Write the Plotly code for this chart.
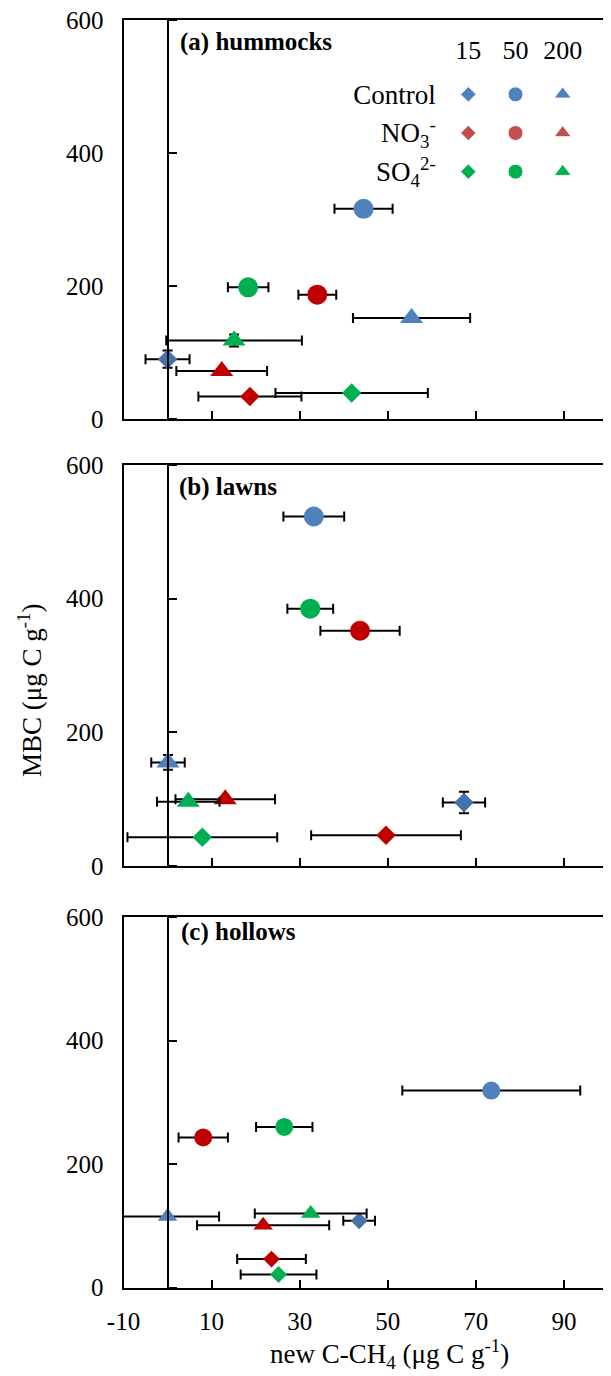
import plotly.graph_objects as go

# ---------------- data ----------------
doses = ["15", "50", "200"]
treatments = ["Control", "NO<sub>3</sub><sup>-</sup>", "SO<sub>4</sub><sup>2-</sup>"]
panel_labels = ["(a) hummocks", "(b) lawns", "(c) hollows"]

x_ticks = [-10, 10, 30, 50, 70, 90]
y_ticks = [0, 200, 400, 600]

# order: Control(15,50,200), NO3(15,50,200), SO4(15,50,200)
hum_x = [0.0, 44.5, 55.4, 18.7, 34.0, 12.3, 41.8, 18.3, 15.1]
hum_y = [90, 316, 152, 34, 187, 72, 39, 198, 118]
hum_xerr = [5.0, 6.6, 13.3, 11.7, 4.3, 10.3, 17.3, 4.6, 15.4]
hum_yerr = [13, 0, 0, 0, 0, 0, 0, 0, 9]

lawn_x = [67.3, 33.2, 0.1, 49.6, 43.7, 13.1, 7.9, 32.4, 4.7]
lawn_y = [95, 523, 155, 46, 352, 100, 43, 385, 96]
lawn_xerr = [4.8, 6.9, 3.8, 17.0, 9.0, 11.3, 17.0, 5.2, 7.1]
lawn_yerr = [16, 0, 11, 0, 0, 0, 0, 0, 0]

hol_x = [43.5, 73.5, 0.0, 23.6, 8.1, 21.7, 25.2, 26.5, 32.5]
hol_y = [108, 319, 115, 46, 243, 101, 21, 260, 120]
hol_xerr = [3.6, 20.2, 11.7, 7.8, 5.6, 15.0, 8.6, 6.4, 12.7]
hol_yerr = [0, 0, 0, 0, 0, 0, 0, 0, 0]

# ---------------- style ----------------
OFF = 8                      # page body margin
W, H = 611 - OFF, 1376 - OFF
FONT = "Liberation Serif"
data_colors = ["#4F81BD", "#C00000", "#00B050"]
diamond_ctrl = "#4672AA"
legend_colors = ["#4F81BD", "#C0504D", "#00B050"]
symbols = ["diamond", "circle", "triangle-up"]
sizes_big = [15, 20, 20]
sizes_small = [13, 18, 17]


def pxx(p):
    return (p - OFF) / W


def pxy(p):
    return 1 - (p - OFF) / H


x_dom = [pxx(123.5), pxx(608)]
tops = [20, 465, 917]
bottoms = [419, 866, 1287.5]
xr = [-10, 100]
zero_pos = x_dom[0] + (0 - xr[0]) / (xr[1] - xr[0]) * (x_dom[1] - x_dom[0])

panels = [
    (hum_x, hum_y, hum_xerr, hum_yerr, sizes_big),
    (lawn_x, lawn_y, lawn_xerr, lawn_yerr, sizes_big),
    (hol_x, hol_y, hol_xerr, hol_yerr, sizes_small),
]

fig = go.Figure()

for p, (xs, ys, xe, ye, sz) in enumerate(panels):
    xa = "x" if p == 0 else f"x{p+1}"
    ya = "y" if p == 0 else f"y{p+1}"
    for t in range(3):
        sl = slice(3 * t, 3 * t + 3)
        cols = [data_colors[t]] * 3
        if t == 0:
            cols[0] = diamond_ctrl
        fig.add_trace(go.Scatter(
            x=xs[sl], y=ys[sl], mode="markers", xaxis=xa, yaxis=ya,
            marker=dict(symbol=symbols, size=sz, color=cols, opacity=1, line=dict(width=0)),
            error_x=dict(type="data", array=xe[sl], color="black", thickness=2, width=5),
            error_y=dict(type="data", array=ye[sl], color="black", thickness=2, width=5,
                         visible=any(v > 0 for v in ye[sl])),
            showlegend=False, hoverinfo="skip", cliponaxis=True,
        ))
    # dummy trace for the x=0 axis overlay
    fig.add_trace(go.Scatter(x=[None], y=[None], xaxis=xa, yaxis=f"y{p+4}",
                             showlegend=False, hoverinfo="skip"))

# legend grid (own small axes)
for t in range(3):
    fig.add_trace(go.Scatter(
        x=doses, y=[treatments[t]] * 3, mode="markers", xaxis="x4", yaxis="y7",
        marker=dict(symbol=symbols, size=[12, 15, 15], color=legend_colors[t], opacity=1),
        showlegend=False, hoverinfo="skip",
    ))

layout = dict(
    width=W, height=H, margin=dict(l=0, r=0, t=0, b=0, pad=0, autoexpand=False),
    paper_bgcolor="white", plot_bgcolor="white",
    font=dict(family=FONT, size=24, color="black"),
    showlegend=False,
)

for p in range(3):
    xk = "xaxis" if p == 0 else f"xaxis{p+1}"
    yk = "yaxis" if p == 0 else f"yaxis{p+1}"
    ya = "y" if p == 0 else f"y{p+1}"
    xa = "x" if p == 0 else f"x{p+1}"
    layout[xk] = dict(
        domain=x_dom, anchor=ya, range=xr, automargin=False,
        tickvals=x_ticks, ticktext=[f"{v:g}" for v in x_ticks],
        showticklabels=(p == 2), ticks="inside", ticklen=8, tickwidth=2, tickcolor="black",
        showline=True, linecolor="black", linewidth=2, mirror=True,
        showgrid=False, zeroline=False, ticklabelstandoff=10,
        ticklabeloverflow="allow",
        tickfont=dict(size=25, family=FONT),
    )
    layout[yk] = dict(
        domain=[pxy(bottoms[p]), pxy(tops[p])], anchor=xa, range=[0, 600], automargin=False,
        tickvals=y_ticks, ticks="", showline=True, linecolor="black", linewidth=2,
        mirror=True, showgrid=False, zeroline=False, ticklabelstandoff=13,
        ticklabeloverflow="allow",
        tickfont=dict(size=25, family=FONT),
    )
    layout[f"yaxis{p+4}"] = dict(
        overlaying=ya, anchor="free", position=zero_pos, side="right", range=[0, 600],
        tickvals=y_ticks, ticks="outside", ticklen=8, tickwidth=2, tickcolor="black",
        showticklabels=False, showline=True, linecolor="black", linewidth=2,
        showgrid=False, zeroline=False, automargin=False,
    )

# legend axes
layout["xaxis4"] = dict(
    domain=[pxx(444.7), pxx(586.3)], anchor="y7", type="category",
    categoryorder="array", categoryarray=doses, range=[-0.5, 2.5], automargin=False,
    side="top", showgrid=False, zeroline=False, showline=False, ticks="",
    tickfont=dict(size=26, family=FONT), ticklabelstandoff=10, fixedrange=True,
)
layout["yaxis7"] = dict(
    domain=[pxy(191), pxy(75)], anchor="x4", type="category",
    categoryorder="array", categoryarray=treatments, range=[2.5, -0.5], automargin=False,
    showgrid=False, zeroline=False, showline=False, ticks="",
    tickfont=dict(size=27, family=FONT), ticklabelstandoff=8, fixedrange=True,
)

annotations = []
label_pos = [(178, 42), (177, 487), (179, 932)]
for p in range(3):
    lx, ly = label_pos[p]
    annotations.append(dict(
        text=f"<b>{panel_labels[p]}</b>", xref="paper", yref="paper",
        x=pxx(lx), y=pxy(ly), xanchor="left", yanchor="middle",
        showarrow=False, font=dict(size=25, family=FONT, color="black"),
    ))
annotations.append(dict(
    text="new C-CH<sub>4</sub> (μg C g<sup>-1</sup>)", xref="paper", yref="paper",
    x=pxx(389), y=pxy(1354), xanchor="center", yanchor="middle",
    showarrow=False, font=dict(size=27, family=FONT, color="black"),
))
annotations.append(dict(
    text="MBC (μg C g<sup>-1</sup>)", xref="paper", yref="paper",
    x=pxx(30), y=pxy(690), xanchor="center", yanchor="middle", textangle=-90,
    showarrow=False, font=dict(size=27, family=FONT, color="black"),
))
layout["annotations"] = annotations

fig.update_layout(**layout)
fig.write_html("out.html")
